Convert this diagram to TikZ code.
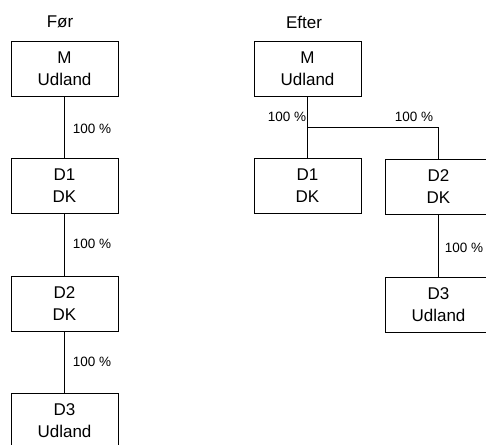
\documentclass[tikz,border=0pt]{standalone}
\usepackage{fontspec}
\setmainfont{Liberation Sans}
\begin{document}
\begin{tikzpicture}[x=1pt,y=-1pt,
        firm/.style = {draw, line width=0.8pt, minimum width=107pt, minimum height=55pt,
                       align=center, inner sep=0pt, font=\fontsize{17}{22}\selectfont},
        share/.style = {font=\fontsize{13.5}{16}\selectfont, inner sep=0pt},
        title/.style = {font=\fontsize{17}{20}\selectfont, inner sep=0pt}]
    \clip (0,0) rectangle (486,444);
    % foer
    \node[title] (tFoer) at (60,22) {Før};
    \node[firm] (mA) at (64.5,68.5) {M\\Udland};
    \node[firm] (dA1) at (64.5,185.5) {D1\\DK};
    \node[firm] (dA2) at (64.5,303.5) {D2\\DK};
    \node[firm] (dA3) at (64.5,420.5) {D3\\Udland};
    \begin{scope}[line width = 0.8pt]
        \draw (mA) -- (dA1);
        \draw (dA1) -- (dA2);
        \draw (dA2) -- (dA3);
    \end{scope}
    \node[share] (pA1) at (92,129) {100 \%};
    \node[share] (pA2) at (92,244) {100 \%};
    \node[share] (pA3) at (92,362) {100 \%};
    % efter
    \node[title] (tEfter) at (304,22) {Efter};
    \node[firm] (mB) at (307.5,68.5) {M\\Udland};
    \node[firm] (dB1) at (307.5,185.5) {D1\\DK};
    \node[firm] (dB2) at (438.5,186.5) {D2\\DK};
    \node[firm] (dB3) at (438.5,304.5) {D3\\Udland};
    \coordinate (split) at (307.5,127.5);
    \begin{scope}[line width = 0.8pt]
        \draw (mB) -- (dB1);
        \draw (split) -| (dB2.north);
        \draw (dB2) -- (dB3);
    \end{scope}
    \node[share] (pB1) at (287,117) {100 \%};
    \node[share] (pB2) at (414,117) {100 \%};
    \node[share] (pB3) at (464,248) {100 \%};
\end{tikzpicture}
\end{document}
